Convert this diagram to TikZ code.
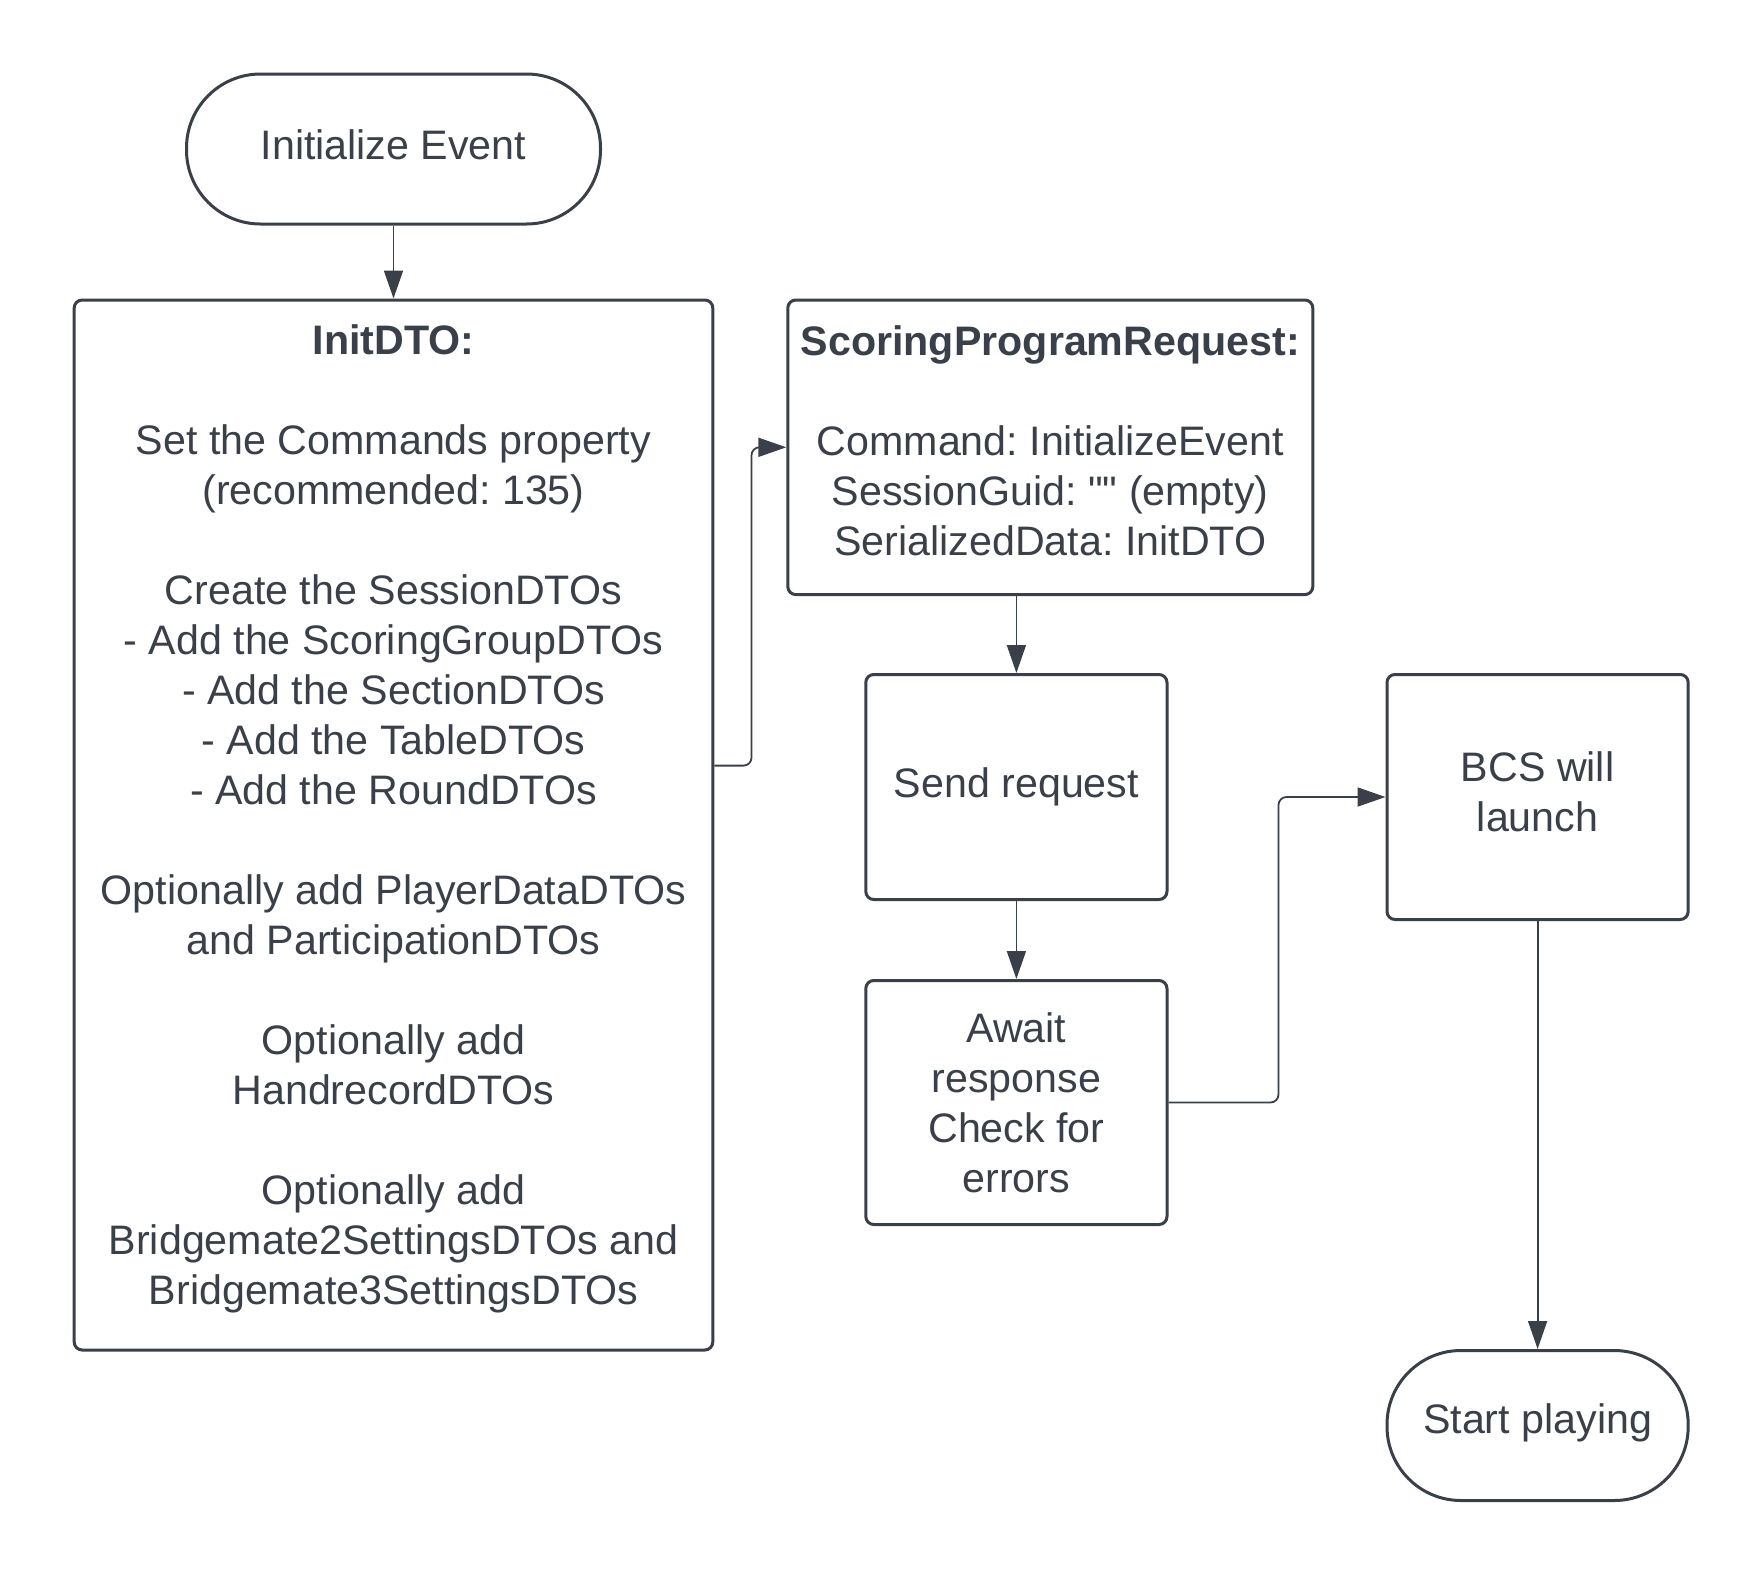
\documentclass[tikz,border=0pt]{standalone}
\usepackage{fontspec}
\setmainfont{Liberation Sans}[Ligatures=TeXOff]
\usetikzlibrary{arrows.meta, positioning}
\definecolor{ink}{HTML}{3A4049}
\frenchspacing

\begin{document}
\begin{tikzpicture}[
    x=0.5pt, y=-0.5pt,
    every node/.style={text=ink, font=\fontsize{20.6pt}{25pt}\selectfont},
    terminal/.style={rectangle, draw=ink, line width=1.5pt, rounded corners=37pt, minimum width=207pt, minimum height=75pt, align=center},
    process/.style={rectangle, draw=ink, line width=1.5pt, rounded corners=4pt, align=center, inner sep=0pt},
    arrow/.style={draw=ink, line width=0.9pt, rounded corners=4pt, -{Triangle[length=14pt, width=9.5pt]}}
]
    \useasboundingbox (0,0) rectangle (1763,1575);

    \node[terminal, text depth=4.5pt] (initev) at (393.5,149) {Initialize Event};
    \node[process, below=36.5pt of initev, minimum width=319.3pt, minimum height=525pt, text depth=10pt] (initdto) {\textbf{InitDTO:}\\[25pt]
        Set the Commands property\\
        (recommended: 135)\\[25pt]
        Create the SessionDTOs\\
        - Add the ScoringGroupDTOs\\
        - Add the SectionDTOs\\
        - Add the TableDTOs\\
        - Add the RoundDTOs\\[25pt]
        Optionally add PlayerDataDTOs\\
        and ParticipationDTOs\\[25pt]
        Optionally add\\
        HandrecordDTOs\\[25pt]
        Optionally add\\
        Bridgemate2SettingsDTOs and\\
        Bridgemate3SettingsDTOs};
    \node[process, right=36pt of initdto.north east, anchor=north west, minimum width=262.5pt, minimum height=147.3pt, text depth=7pt] (spr) {\textbf{ScoringProgramRequest:}\\[25pt]
        Command: InitializeEvent\\
        SessionGuid: "" (empty)\\
        SerializedData: InitDTO};
    \node[process, minimum width=150.6pt, minimum height=112.5pt] (send) at (1016.4,787) {Send request};
    \node[process, below=39pt of send, minimum width=150.6pt, minimum height=122pt] (await) {Await\\response\\Check for\\errors};
    \node[process, right=108.5pt of send.north east, anchor=north west, minimum width=150.6pt, minimum height=122.5pt, text depth=5.6pt] (bcs) {BCS will\\launch};
    \node[terminal, below=214pt of bcs, minimum width=150.6pt, text depth=7pt] (start) {Start playing};

    % Arrows
    \draw[arrow] (initev) -- (initdto);
    \draw[arrow] ([yshift=29.7pt]initdto.east) -- ++(18.6pt,0) |- (spr.west);
    \draw[arrow] (spr.south -| send.north) -- (send.north);
    \draw[arrow] (send) -- (await);
    \draw[arrow] (await.east) -- ++(55pt,0) |- (bcs.west);
    \draw[arrow] (bcs) -- (start);
\end{tikzpicture}
\end{document}
